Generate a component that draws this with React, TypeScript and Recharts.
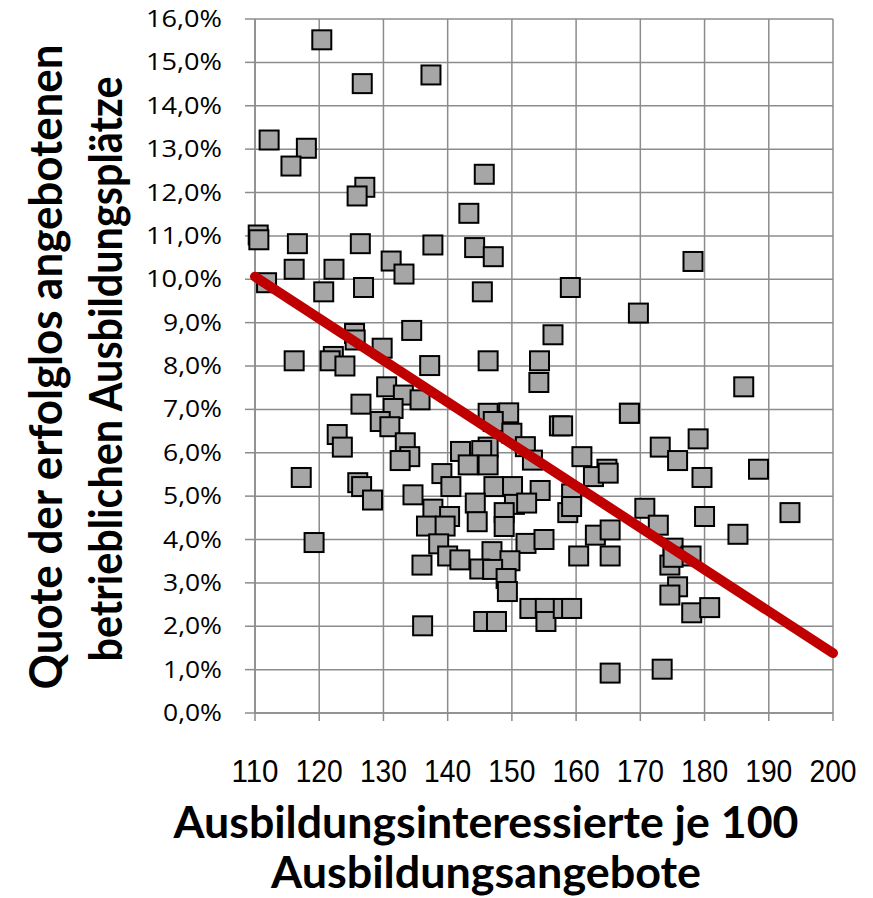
import React from "react";
import { CartesianGrid, Scatter, ScatterChart, XAxis, YAxis } from "recharts";

// Ausbildungsinteressierte je 100 Ausbildungsangebote (x) and Quote in % (y), one entry per region
const interest = [
  120.4, 126.7, 137.4, 112.2, 118.0, 115.6, 127.1, 125.9, 110.5, 110.6,
  116.6, 126.4, 137.7, 145.7, 143.3, 144.2, 147.1, 116.1, 122.3, 131.2,
  133.2, 111.8, 120.7, 126.9, 134.4, 125.5, 125.6, 129.8, 116.1, 122.2,
  121.7, 124.0, 137.2, 130.5, 133.1, 135.7, 126.5, 131.5, 129.5, 131.0,
  122.8, 123.6, 133.4, 134.1, 132.6, 117.2, 126.0, 126.6, 128.3, 134.6,
  137.7, 136.7, 119.2, 136.0, 136.1, 145.4, 159.1, 156.4, 146.3, 154.3,
  154.2, 146.3, 149.5, 147.1, 150.0, 157.4, 157.9, 152.1, 153.2, 146.3,
  142.0, 145.3, 143.2, 146.3, 160.9, 164.8, 162.7, 139.1, 168.3, 140.5,
  147.2, 150.1, 154.4, 159.3, 144.3, 150.4, 152.3, 140.3, 158.7, 159.3,
  148.8, 144.6, 148.8, 139.6, 138.6, 152.2, 155.0, 140.0, 141.9, 146.9,
  149.7, 145.0, 147.0, 149.1, 149.3, 160.4, 165.3, 163.0, 165.3, 152.8,
  155.2, 155.3, 158.0, 159.3, 145.6, 147.6, 165.3, 165.0, 178.2, 169.7,
  186.1, 168.3, 173.1, 179.0, 175.8, 179.6, 188.4, 170.7, 172.8, 180.0,
  185.2, 193.3, 175.1, 177.9, 174.6, 175.1, 175.8, 174.6, 178.0, 180.8,
  173.4,
];
const quote = [
  15.52, 14.51, 14.71, 13.21, 13.02, 12.61, 12.12, 11.92, 11.02, 10.91,
  10.82, 10.82, 10.79, 12.42, 11.52, 10.73, 10.52, 10.23, 10.23, 10.42,
  10.12, 9.92, 9.71, 9.81, 8.82, 8.75, 8.6, 8.41, 8.12, 8.22,
  8.12, 8.0, 8.01, 7.52, 7.33, 7.22, 7.12, 7.02, 6.72, 6.6,
  6.42, 6.13, 6.23, 5.91, 5.82, 5.43, 5.31, 5.22, 4.91, 5.03,
  4.7, 4.31, 3.93, 3.41, 2.01, 9.71, 9.81, 8.72, 8.12, 8.12,
  7.62, 6.91, 6.92, 6.72, 6.45, 6.62, 6.62, 6.14, 5.83, 6.13,
  6.03, 6.05, 5.72, 5.72, 5.91, 5.62, 5.45, 5.52, 6.91, 5.22,
  5.22, 5.22, 5.13, 5.05, 4.84, 4.81, 4.84, 4.53, 4.62, 4.76,
  4.62, 4.41, 4.3, 4.31, 3.9, 3.91, 4.0, 3.62, 3.53, 3.72,
  3.51, 3.32, 3.31, 3.1, 2.8, 3.62, 3.62, 4.1, 4.22, 2.41,
  2.41, 2.11, 2.41, 2.41, 2.11, 2.11, 0.92, 5.53, 10.41, 9.22,
  7.52, 6.91, 6.13, 6.32, 5.82, 5.43, 5.62, 4.72, 4.33, 4.53,
  4.12, 4.62, 3.8, 3.62, 3.41, 3.59, 2.91, 2.72, 2.31, 2.43,
  1.01,
];

// linear trend line, start and end of the x range
const trendX = [110, 200];
const trendY = [10.06, 1.38];

const xTicks = [110, 120, 130, 140, 150, 160, 170, 180, 190, 200];
const yTicks = [0, 1, 2, 3, 4, 5, 6, 7, 8, 9, 10, 11, 12, 13, 14, 15, 16];

const points = interest.map((x, i) => ({ x, y: quote[i] }));
const trend = trendX.map((x, i) => ({ x, y: trendY[i] }));

const GRID = "#8c8c8c";

function Square(props: any) {
  const { cx, cy } = props;
  return (
    <rect
      x={cx - 9.5}
      y={cy - 9.5}
      width={19}
      height={19}
      fill="#a6a6a6"
      stroke="#000"
      strokeWidth={2}
    />
  );
}

function XTick(props: any) {
  const { x, y, payload } = props;
  const label = String(payload.value);
  return (
    <text
      x={x}
      y={y + 59}
      textAnchor="middle"
      fontFamily="'Liberation Sans', Arial, sans-serif"
      fontSize={32}
      fill="#000"
      textLength={label.length * 15.7}
      lengthAdjust="spacingAndGlyphs"
    >
      {label}
    </text>
  );
}

function YTick(props: any) {
  const { x, y, payload } = props;
  const label = payload.value.toFixed(1).replace(".", ",") + "%";
  const digits = label.length - 2;
  return (
    <text
      x={x - 21}
      y={y + 8}
      textAnchor="end"
      fontFamily="'Open Sans', sans-serif"
      fontSize={23}
      fill="#000"
      textLength={digits * 17 + 25}
      lengthAdjust="spacingAndGlyphs"
    >
      {label}
    </text>
  );
}

const titleStyle = {
  fontFamily: "Lato, 'Open Sans', sans-serif",
  fontWeight: 700,
  fontSize: 44,
  fill: "#000",
};

function XTitle() {
  return (
    <g style={titleStyle}>
      <text x={486} y={838} textAnchor="middle" textLength={625} lengthAdjust="spacingAndGlyphs">
        Ausbildungsinteressierte je 100
      </text>
      <text x={486} y={888} textAnchor="middle" textLength={430} lengthAdjust="spacingAndGlyphs">
        Ausbildungsangebote
      </text>
    </g>
  );
}

function YTitle() {
  return (
    <g style={{ ...titleStyle, fontSize: 46 }}>
      <text
        transform="translate(62,367) rotate(-90)"
        textAnchor="middle"
        textLength={645}
        lengthAdjust="spacingAndGlyphs"
      >
        Quote der erfolglos angebotenen
      </text>
      <text
        transform="translate(122,369) rotate(-90)"
        textAnchor="middle"
        textLength={585}
        lengthAdjust="spacingAndGlyphs"
      >
        betrieblichen Ausbildungsplätze
      </text>
    </g>
  );
}

export default function App() {
  return (
    <div style={{ position: "absolute", left: 0, top: 0, background: "#fff" }}>
      <ScatterChart
        width={873}
        height={898}
        margin={{ top: 19, right: 40, bottom: 0, left: 0 }}
      >
        <CartesianGrid stroke={GRID} strokeWidth={1.5} />
        <XAxis
          type="number"
          dataKey="x"
          domain={[110, 200]}
          ticks={xTicks}
          interval={0}
          height={185}
          tickSize={8}
          axisLine={{ stroke: GRID, strokeWidth: 1.5 }}
          tickLine={{ stroke: GRID, strokeWidth: 1.5 }}
          tick={<XTick />}
          label={{ content: () => <XTitle /> }}
        />
        <YAxis
          type="number"
          dataKey="y"
          domain={[0, 16]}
          ticks={yTicks}
          interval={0}
          width={255}
          tickSize={10}
          axisLine={{ stroke: GRID, strokeWidth: 1.5 }}
          tickLine={{ stroke: GRID, strokeWidth: 1.5 }}
          tick={<YTick />}
          label={{ content: () => <YTitle /> }}
        />
        <Scatter data={points} shape={<Square />} isAnimationActive={false} />
        <Scatter
          data={trend}
          line={{ stroke: "#c00000", strokeWidth: 10, strokeLinecap: "round" }}
          shape={() => <g />}
          isAnimationActive={false}
        />
      </ScatterChart>
    </div>
  );
}
